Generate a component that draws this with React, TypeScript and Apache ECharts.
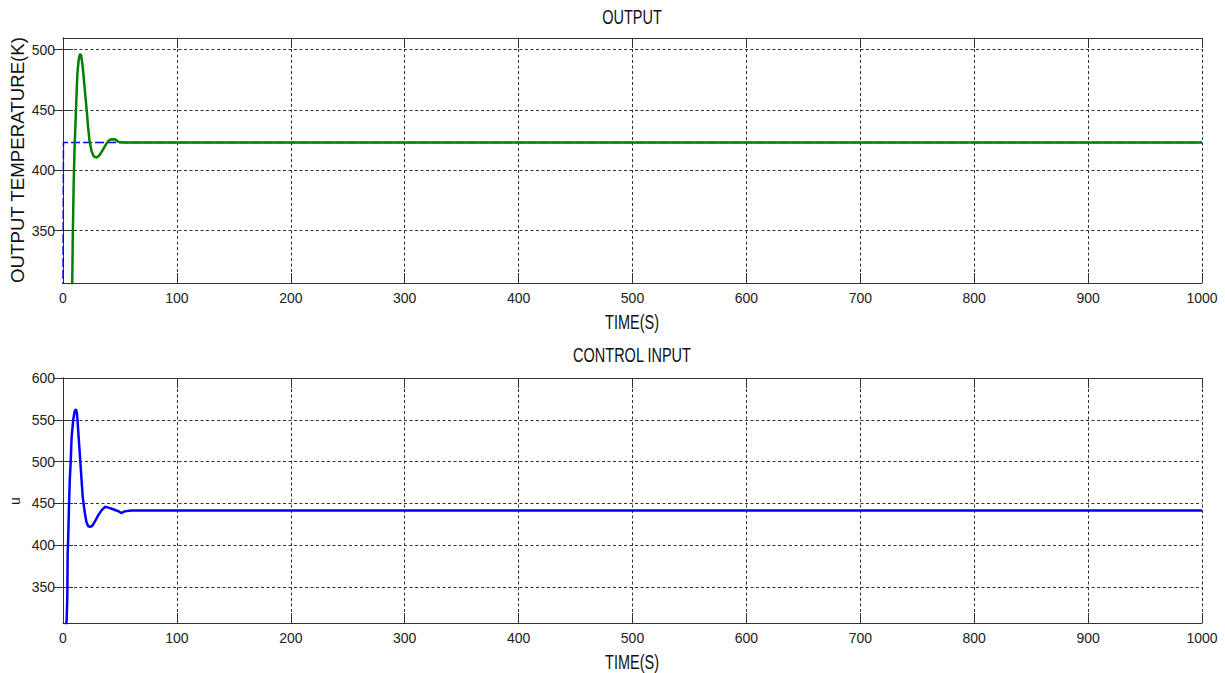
import React, { useEffect, useRef } from "react";
import * as echarts from "echarts";

const timeTicks = [0, 100, 200, 300, 400, 500, 600, 700, 800, 900, 1000];
const outputTicks = [350, 400, 450, 500];
const controlTicks = [350, 400, 450, 500, 550, 600];

const setpointTime = [0, 0.4, 1000];
const setpointTemp = [300, 423, 423];

const outputTime = [0, 8, 8.6, 9.4, 10.2, 11.4, 12.6, 13.8, 15, 16, 17, 17.9, 19.3, 20.8, 22, 23.2, 25, 27, 29.5, 32, 35, 38, 40.5, 43, 46, 48, 50, 55, 1000];
const outputTemp = [300, 300, 345, 390, 420, 450, 480, 492, 496.5, 495, 488, 480, 465, 450, 436, 425, 416, 411.5, 410.5, 412.5, 417, 422, 425, 425.8, 425.6, 424, 423.2, 423, 423];

const controlTime = [0, 1.8, 3.2, 3.8, 4.1, 4.6, 5.3, 6.0, 6.7, 7.6, 9, 10.2, 11.4, 12.2, 12.9, 14.9, 17.3, 19, 20.5, 22, 23.7, 25.5, 27, 29, 31, 34, 36.9, 40, 44, 48, 51.5, 54, 60, 1000];
const controlInput = [300, 300, 310, 340, 390, 410, 450, 480, 498, 530, 550, 560, 562.7, 558, 546, 506, 458, 440, 428, 423, 422, 423, 426, 431, 436, 442, 446, 445, 443, 441, 438.5, 440.5, 441.5, 441.5];

const zip = (a: number[], b: number[]) => a.map((t, i) => [t, b[i]]);

const FONT = "'Liberation Sans', Arial, sans-serif";
const LABEL_COLOR = "#222";
const GRID_DASH = { color: "#333", width: 1, type: [3, 2.5] as any };

function xAxes(gridIndex: number) {
  return [
    {
      type: "value",
      gridIndex,
      min: timeTicks[0],
      max: timeTicks[timeTicks.length - 1],
      interval: timeTicks[1] - timeTicks[0],
      position: "bottom",
      axisLine: { show: true, lineStyle: { color: "#333", width: 1 } },
      axisTick: { show: true, inside: true, length: 10, lineStyle: { color: "#333" } },
      axisLabel: {
        show: true,
        margin: 8,
        color: LABEL_COLOR,
        fontSize: 14,
        fontFamily: FONT,
        formatter: (v: number) => String(v),
      },
      splitLine: { show: true, lineStyle: GRID_DASH },
    },
    {
      type: "value",
      gridIndex,
      min: timeTicks[0],
      max: timeTicks[timeTicks.length - 1],
      interval: timeTicks[1] - timeTicks[0],
      position: "top",
      axisLine: { show: true, lineStyle: { color: "#333", width: 1 } },
      axisTick: { show: true, inside: true, length: 10, lineStyle: { color: "#333" } },
      axisLabel: { show: false },
      splitLine: { show: false },
    },
  ];
}

function yAxes(gridIndex: number, min: number, max: number, ticks: number[]) {
  return [
    {
      type: "value",
      gridIndex,
      min,
      max,
      position: "left",
      axisLine: { show: true, lineStyle: { color: "#333", width: 1 } },
      axisTick: { show: true, inside: true, length: 10, customValues: ticks, lineStyle: { color: "#333" } },
      axisLabel: { show: true, margin: 8, color: LABEL_COLOR, fontSize: 14, fontFamily: FONT, customValues: ticks },
      splitLine: { show: true, lineStyle: GRID_DASH },
    },
    {
      type: "value",
      gridIndex,
      min,
      max,
      position: "right",
      axisLine: { show: true, lineStyle: { color: "#333", width: 1 } },
      axisTick: { show: true, inside: true, length: 10, customValues: ticks, lineStyle: { color: "#333" } },
      axisLabel: { show: false, customValues: ticks },
      splitLine: { show: false },
    },
  ];
}

function txt(text: string, x: number, y: number, size: number, extra: any = {}) {
  return {
    type: "text",
    x,
    y,
    silent: true,
    ...extra,
    style: {
      text,
      align: "center",
      verticalAlign: "middle",
      fill: "#111",
      font: `${size}px ${FONT}`,
    },
  };
}

export default function App() {
  const ref = useRef<HTMLDivElement>(null);
  useEffect(() => {
    document.body.style.margin = "0";
    if (!ref.current) return;
    const chart = echarts.init(ref.current, undefined, { renderer: "svg" });
    chart.setOption({
      animation: false,
      backgroundColor: "#fff",
      grid: [
        { left: 63, right: 23, top: 38, height: 245, containLabel: false },
        { left: 63, right: 23, top: 378, height: 245, containLabel: false },
      ],
      xAxis: [...xAxes(0), ...xAxes(1)],
      yAxis: [...yAxes(0, 306.6, 509.7, outputTicks), ...yAxes(1, 307, 600, controlTicks)],
      series: [
        {
          name: "Setpoint",
          type: "line",
          xAxisIndex: 0,
          yAxisIndex: 0,
          data: zip(setpointTime, setpointTemp),
          showSymbol: false,
          clip: true,
          lineStyle: { color: "#0000ff", width: 1.5, type: [9, 3] },
        },
        {
          name: "Output temperature",
          type: "line",
          xAxisIndex: 0,
          yAxisIndex: 0,
          data: zip(outputTime, outputTemp),
          showSymbol: false,
          clip: true,
          lineStyle: { color: "#008000", width: 2.5 },
        },
        {
          name: "Control input",
          type: "line",
          xAxisIndex: 2,
          yAxisIndex: 2,
          data: zip(controlTime, controlInput),
          showSymbol: false,
          clip: true,
          lineStyle: { color: "#0000ff", width: 2.5 },
        },
      ],
      graphic: [
        txt("OUTPUT", 632, 17, 14.5, { scaleY: 1.35 }),
        txt("TIME(S)", 632, 322, 14.5, { scaleY: 1.35 }),
        txt("CONTROL INPUT", 632, 355, 14.5, { scaleY: 1.35 }),
        txt("TIME(S)", 632, 662, 14.5, { scaleY: 1.35 }),
        txt("OUTPUT TEMPERATURE(K)", 17, 160, 18.7, { rotation: Math.PI / 2 }),
        txt("u", 15, 501, 14, { rotation: Math.PI / 2 }),
      ],
    });
    return () => chart.dispose();
  }, []);
  return <div ref={ref} style={{ width: 1225, height: 673 }} />;
}
